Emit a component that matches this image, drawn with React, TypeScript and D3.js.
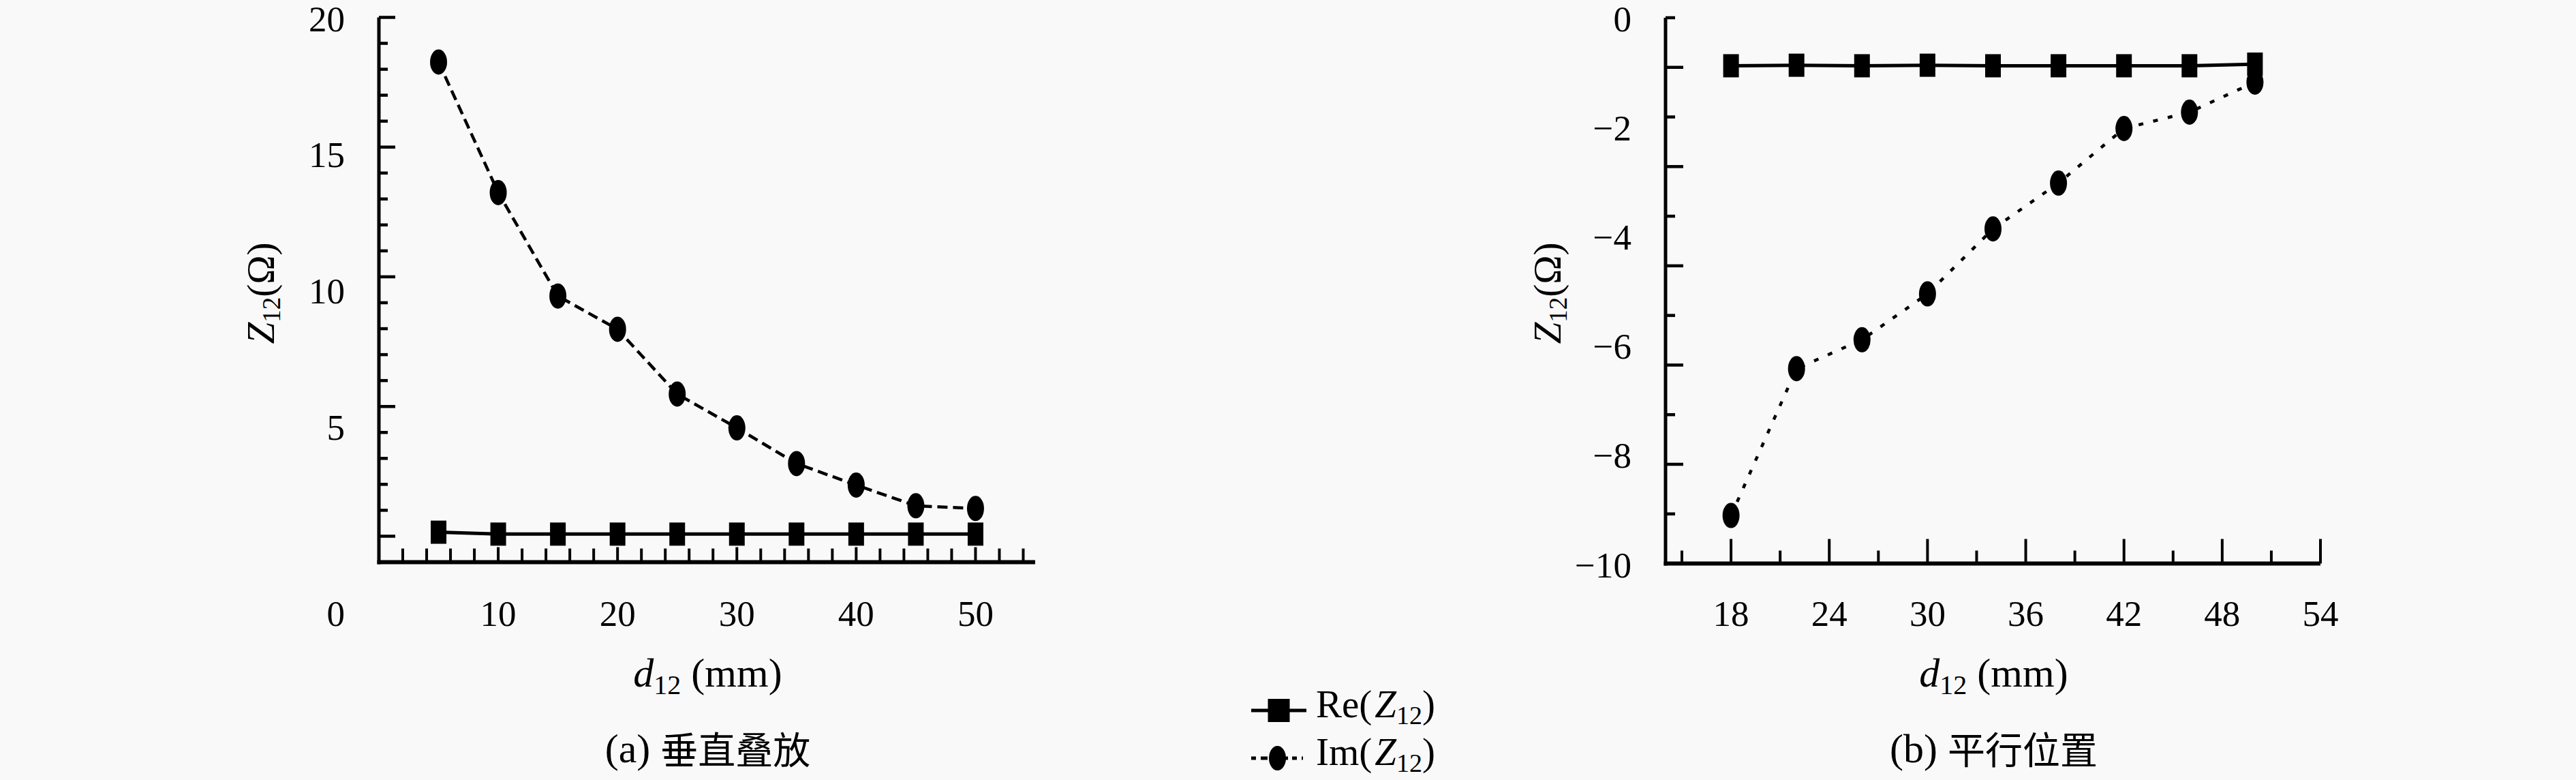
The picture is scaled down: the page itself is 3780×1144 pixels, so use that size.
import * as d3 from "d3"

// (a) vertical stacking
const distA = [5, 10, 15, 20, 25, 30, 35, 40, 45, 50]
const reA = [1.1, 1.03, 1.03, 1.03, 1.03, 1.03, 1.03, 1.03, 1.03, 1.03]
const imA = [18.36, 13.57, 9.77, 8.55, 6.17, 4.93, 3.62, 2.83, 2.07, 1.97]
const xLabelsA = [10, 20, 30, 40, 50]
const yLabelsA = [5, 10, 15, 20]

// (b) parallel position
const distB = [18, 22, 26, 30, 34, 38, 42, 46, 50]
const reB = [-0.88, -0.87, -0.88, -0.87, -0.88, -0.88, -0.88, -0.88, -0.85]
const imB = [-9.12, -6.43, -5.9, -5.06, -3.87, -3.03, -2.03, -1.73, -1.18]
const xLabelsB = [18, 24, 30, 36, 42, 48, 54]
const yLabelsB = [0, -2, -4, -6, -8, -10]

const W = 3780
const H = 1144
const FONT = "'Liberation Serif', 'Noto Sans CJK SC', serif"
const CJK = "'Noto Sans CJK SC', sans-serif"
const INK = "#000"

function fmt(v: number) {
  return v < 0 ? "\u2212" + Math.abs(v) : String(v)
}

type PanelProps = {
  left: number
  right: number
  top: number
  bottom: number
  xDomain: [number, number]
  yDomain: [number, number]
  xTicks: number[]
  xMajor: (t: number) => boolean
  xMinorLen: number
  xMajorLen: number
  yTickIntervals: number
  yMajor: (i: number) => boolean
  yMinorLen: number
  yMajorLen: number
  xLabels: number[]
  yLabels: number[]
  dist: number[]
  re: number[]
  im: number[]
  imDash: string
  tag: string
  caption: string
  yTitleX: number
  zeroCorner?: boolean
}

function Panel(p: PanelProps) {
  const x = d3.scaleLinear().domain(p.xDomain).range([p.left, p.right])
  const y = d3.scaleLinear().domain(p.yDomain).range([p.bottom, p.top])
  // the tick marks of the source figure are spaced independently of the labels
  const yt = d3.scaleLinear().domain([0, p.yTickIntervals]).range([p.bottom, p.top])
  const tickIdx = d3.range(1, p.yTickIntervals + 1)

  const seriesLine = d3
    .line<number>()
    .x((_, i) => x(p.dist[i]))
    .y((d) => y(d))
  const cx = (p.left + p.right) / 2 + 1

  return (
    <g>
      {/* axes */}
      <line x1={p.left} x2={p.left} y1={p.top} y2={p.bottom + 3} stroke={INK} strokeWidth={5} />
      <line x1={p.left - 2.5} x2={p.right} y1={p.bottom} y2={p.bottom} stroke={INK} strokeWidth={6} />

      {tickIdx.map((i) => (
        <line
          key={"yt" + i}
          x1={p.left}
          x2={p.left + (p.yMajor(i) ? p.yMajorLen : p.yMinorLen)}
          y1={yt(i)}
          y2={yt(i)}
          stroke={INK}
          strokeWidth={4.5}
        />
      ))}
      {p.xTicks.map((t) => (
        <line
          key={"xt" + t}
          x1={x(t)}
          x2={x(t)}
          y1={p.bottom}
          y2={p.bottom - (p.xMajor(t) ? p.xMajorLen : p.xMinorLen)}
          stroke={INK}
          strokeWidth={4}
        />
      ))}

      {/* tick labels */}
      {p.yLabels.map((v) => (
        <text key={"yl" + v} x={p.left - 50} y={y(v) + 20} textAnchor="end" fontSize={53} fontFamily={FONT}>
          {fmt(v)}
        </text>
      ))}
      {p.xLabels.map((v) => (
        <text key={"xl" + v} x={x(v)} y={918} textAnchor="middle" fontSize={53} fontFamily={FONT}>
          {fmt(v)}
        </text>
      ))}
      {p.zeroCorner && (
        <text x={p.left - 50} y={918} textAnchor="end" fontSize={53} fontFamily={FONT}>
          0
        </text>
      )}

      {/* series */}
      <path d={seriesLine(p.re) ?? ""} fill="none" stroke={INK} strokeWidth={5} />
      <path
        d={seriesLine(p.im) ?? ""}
        fill="none"
        stroke={INK}
        strokeWidth={4.5}
        strokeDasharray={p.imDash}
      />
      {p.re.map((v, i) => (
        <rect key={"r" + i} x={x(p.dist[i]) - 11.5} y={y(v) - 17} width={23} height={34} fill={INK} />
      ))}
      {p.im.map((v, i) => (
        <ellipse key={"c" + i} cx={x(p.dist[i])} cy={y(v)} rx={12.5} ry={18.5} fill={INK} />
      ))}

      {/* titles */}
      <text x={cx} y={1007} textAnchor="middle" fontSize={60} fontFamily={FONT}>
        <tspan fontStyle="italic">d</tspan>
        <tspan fontSize={40} dy={11}>12</tspan>
        <tspan dy={-11}> (mm)</tspan>
      </text>
      <text transform={`translate(${p.yTitleX},430) rotate(-90)`} textAnchor="middle" fontSize={57} fontFamily={FONT}>
        <tspan fontStyle="italic">Z</tspan>
        <tspan fontSize={37} dy={9}>12</tspan>
        <tspan dy={-9}>(Ω)</tspan>
      </text>
      <text x={cx} y={1118} textAnchor="middle" fontFamily={FONT}>
        <tspan fontSize={60}>{p.tag} </tspan>
        <tspan fontSize={55} fontFamily={CJK} dy={2}>{p.caption}</tspan>
      </text>
    </g>
  )
}

function Legend() {
  const lx0 = 1836
  const lx1 = 1917
  const mid = (lx0 + lx1) / 2
  const rows = [
    { label: "Re", y: 1042, base: 1052, dash: "", marker: "square" },
    { label: "Im", y: 1112, base: 1122, dash: "7 7 10 6", marker: "circle" },
  ]
  return (
    <g>
      {rows.map((r) => (
        <g key={r.label}>
          <line
            x1={lx0}
            x2={r.marker === "square" ? lx1 : lx1 - 5}
            y1={r.y}
            y2={r.y}
            stroke={INK}
            strokeWidth={5}
            strokeDasharray={r.dash || undefined}
          />
          {r.marker === "square" ? (
            <rect x={mid - 16} y={r.y - 17} width={32} height={34} fill={INK} />
          ) : (
            <ellipse cx={mid - 2} cy={r.y} rx={12.5} ry={18} fill={INK} />
          )}
          <text x={1931} y={r.base} fontSize={57} fontFamily={FONT}>
            <tspan>{r.label}(</tspan>
            <tspan fontStyle="italic" dx={4}>Z</tspan>
            <tspan fontSize={38} dy={10}>12</tspan>
            <tspan dy={-10}>)</tspan>
          </text>
        </g>
      ))}
    </g>
  )
}

export default function App() {
  return (
    <svg
      width={W}
      height={H}
      viewBox={`0 0 ${W} ${H}`}
      style={{ position: "absolute", left: 0, top: 0, background: "#f9f9f9" }}
    >
      <rect width={W} height={H} fill="#f9f9f9" />
      <Panel
        left={556}
        right={1519}
        top={25.5}
        bottom={824.5}
        xDomain={[0, 55]}
        yDomain={[0, 20]}
        xTicks={d3.range(2, 55, 2)}
        xMajor={(t) => t % 10 === 0}
        xMinorLen={20}
        xMajorLen={22}
        yTickIntervals={21}
        yMajor={(i) => (i - 1) % 5 === 0}
        yMinorLen={13}
        yMajorLen={24}
        xLabels={xLabelsA}
        yLabels={yLabelsA}
        dist={distA}
        re={reA}
        im={imA}
        imDash="15 8"
        tag="(a)"
        caption="垂直叠放"
        yTitleX={402}
        zeroCorner
      />
      <Panel
        left={2444}
        right={3405}
        top={26}
        bottom={826.5}
        xDomain={[14, 54]}
        yDomain={[-10, 0]}
        xTicks={d3.range(15, 55, 3)}
        xMajor={(t) => (t - 18) % 6 === 0}
        xMinorLen={19}
        xMajorLen={36}
        yTickIntervals={11}
        yMajor={(i) => i % 2 === 0}
        yMinorLen={14}
        yMajorLen={26}
        xLabels={xLabelsB}
        yLabels={yLabelsB}
        dist={distB}
        re={reB}
        im={imB}
        imDash="7 15"
        tag="(b)"
        caption="平行位置"
        yTitleX={2290}
      />
      <Legend />
    </svg>
  )
}
